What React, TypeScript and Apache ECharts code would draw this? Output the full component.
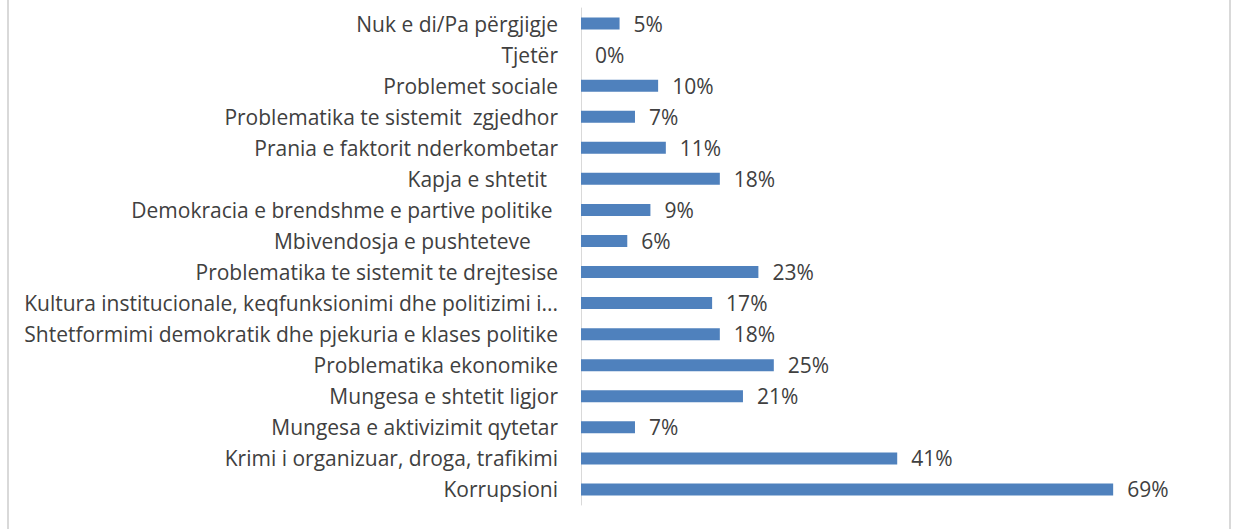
import React, { useEffect, useRef } from "react";
import * as echarts from "echarts";

const categories = [
  "Nuk e di/Pa përgjigje",
  "Tjetër",
  "Problemet sociale",
  "Problematika te sistemit  zgjedhor",
  "Prania e faktorit nderkombetar",
  "Kapja e shtetit  ",
  "Demokracia e brendshme e partive politike ",
  "Mbivendosja e pushteteve     ",
  "Problematika te sistemit te drejtesise",
  "Kultura institucionale, keqfunksionimi dhe politizimi i...",
  "Shtetformimi demokratik dhe pjekuria e klases politike",
  "Problematika ekonomike",
  "Mungesa e shtetit ligjor",
  "Mungesa e aktivizimit qytetar",
  "Krimi i organizuar, droga, trafikimi",
  "Korrupsioni",
];

const values = [5, 0, 10, 7, 11, 18, 9, 6, 23, 17, 18, 25, 21, 7, 41, 69];

const FONT = "'Open Sans', sans-serif";
const TEXT = "#404040";

export default function App() {
  const ref = useRef<HTMLDivElement>(null);
  useEffect(() => {
    if (!ref.current) return;
    const chart = echarts.init(ref.current, undefined, { renderer: "svg" });
    chart.setOption({
      animation: false,
      backgroundColor: "#ffffff",
      grid: { left: 581, right: 35, top: 8, bottom: 24, containLabel: false },
      xAxis: {
        type: "value",
        min: 0,
        max: 80,
        show: false,
      },
      yAxis: {
        type: "category",
        data: categories,
        inverse: true,
        axisLine: { show: true, lineStyle: { color: "#d9d9d9", width: 1 } },
        axisTick: { show: false },
        axisLabel: {
          margin: 23,
          color: TEXT,
          fontFamily: FONT,
          fontSize: 21,
        },
        splitLine: { show: false },
      },
      series: [
        {
          type: "bar",
          data: values,
          barWidth: 12,
          itemStyle: { color: "#4f81bd" },
          label: {
            show: true,
            position: "right",
            distance: 14,
            formatter: "{c}%",
            color: TEXT,
            fontFamily: FONT,
            fontSize: 21,
          },
        },
      ],
      graphic: [
        {
          type: "rect",
          shape: { x: 8, y: -5, width: 1222, height: 545 },
          style: { fill: "none", stroke: "#d9d9d9", lineWidth: 2 },
          silent: true,
        },
      ],
    });
    return () => chart.dispose();
  }, []);
  return (
    <div
      ref={ref}
      style={{ position: "absolute", left: 0, top: 0, width: 1233, height: 529 }}
    />
  );
}
